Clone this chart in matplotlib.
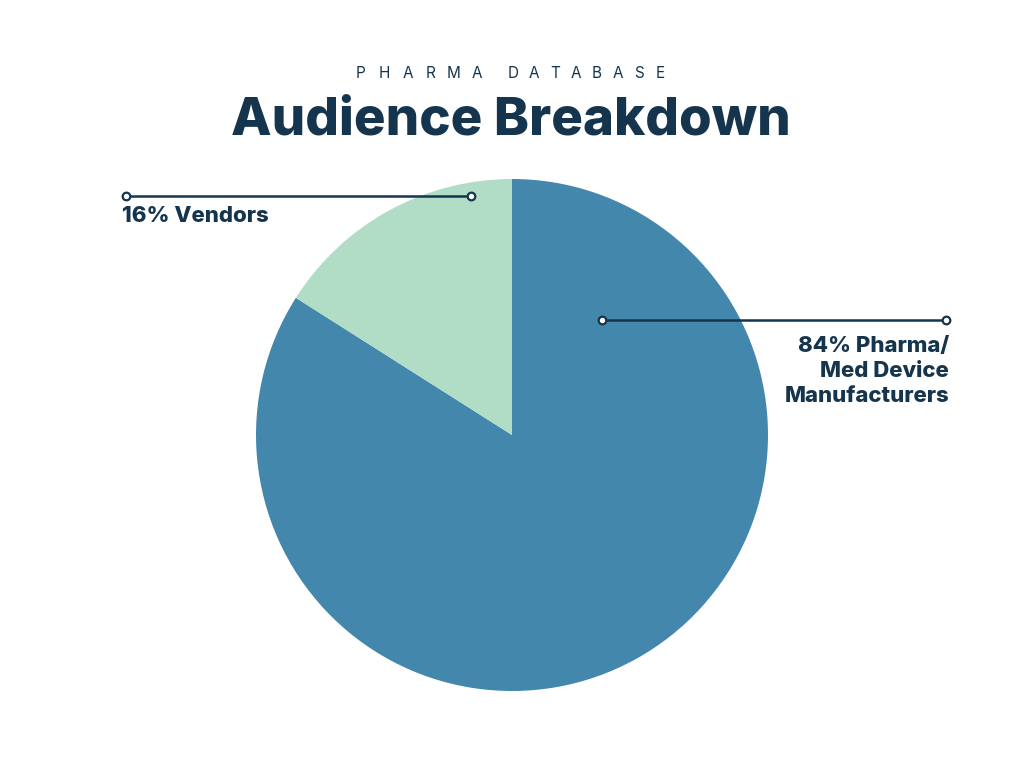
import matplotlib
matplotlib.use("Agg")
import matplotlib.pyplot as plt
from matplotlib.lines import Line2D

categories = ["Pharma/\nMed Device\nManufacturers", "Vendors"]
shares = [84, 16]
colors = ["#4387AD", "#B1DDC6"]
dark = "#14354D"

W, H = 1024, 768
fig = plt.figure(figsize=(W / 100, H / 100), dpi=100)
fig.patch.set_facecolor("white")

# pie axes: center (512,435), radius 256 px
ax = fig.add_axes([256 / W, (H - 691) / H, 512 / W, 512 / H])
ax.pie(shares, colors=colors, startangle=90, counterclock=False,
       wedgeprops=dict(linewidth=0))
ax.set_xlim(-1, 1)
ax.set_ylim(-1, 1)
ax.set_aspect("equal")
ax.axis("off")

def px(x, y):
    return x / W, 1 - y / H

# spaced subtitle, letter by letter
sub_words = ["PHARMA", "DATABASE"]
word_starts = [361, 513]
pitches = [23.2, 21.0]
for word, x0, p in zip(sub_words, word_starts, pitches):
    for i, ch in enumerate(word):
        fig.text(*px(x0 + i * p, 74), ch, ha="center", va="center",
                 fontsize=11, color=dark, family="Inter", fontweight="normal")

fig.text(*px(511, 121), "Audience Breakdown", ha="center", va="center",
         fontsize=38, color=dark, family="Inter", fontweight="heavy")

# leader lines
def leader(x0, x1, y):
    (fx0, fy), (fx1, _) = px(x0, y), px(x1, y)
    fig.add_artist(Line2D([fx0, fx1], [fy, fy], transform=fig.transFigure,
                          color=dark, lw=1.8, zorder=5))
    for fx in (fx0, fx1):
        fig.add_artist(Line2D([fx], [fy], transform=fig.transFigure, marker="o",
                              markersize=5.5, markerfacecolor="white",
                              markeredgecolor=dark, markeredgewidth=1.6, zorder=6))

leader(126, 471, 196)
leader(602, 946, 320)

fig.text(*px(122, 216), f"{shares[1]}% {categories[1]}", ha="left", va="center",
         fontsize=16, color=dark, family="Inter", fontweight="heavy")
fig.text(*px(949, 371), f"{shares[0]}% {categories[0]}", ha="right", va="center",
         fontsize=16, color=dark, family="Inter", fontweight="heavy",
         linespacing=1.32)

fig.savefig("out.png", dpi=100, facecolor="white")
